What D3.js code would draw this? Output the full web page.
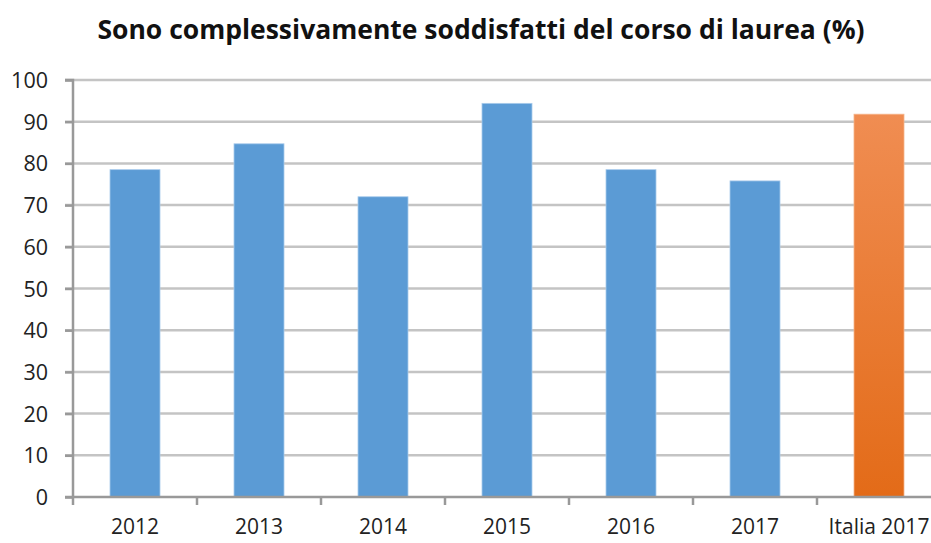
<!DOCTYPE html>
<html><head><meta charset="utf-8">
<script src="https://cdn.jsdelivr.net/npm/d3@7"></script>
<style>body{margin:0;background:#fff;} svg{display:block;}</style>
</head><body>
<svg id="c" width="931" height="543"></svg>
<script>
const title = "Sono complessivamente soddisfatti del corso di laurea (%)";
const categories = ["2012","2013","2014","2015","2016","2017","Italia 2017"];
const values = [78.5, 84.7, 72, 94.4, 78.5, 75.8, 91.8];
const yTicks = [0,10,20,30,40,50,60,70,80,90,100];

const svg = d3.select("#c");
const m = {left:73, top:80, bottom:497, right:941};
const xb = d3.scaleBand().domain(categories).range([m.left, m.right]);
const y = d3.scaleLinear().domain([0,100]).range([m.bottom, m.top]);

const defs = svg.append("defs");
const g = defs.append("linearGradient").attr("id","og").attr("x1",0).attr("y1",0).attr("x2",0).attr("y2",1);
g.append("stop").attr("offset","0%").attr("stop-color","#f08d52");
g.append("stop").attr("offset","100%").attr("stop-color","#e36b18");

svg.append("text").attr("x",481).attr("y",39).attr("text-anchor","middle")
  .attr("font-family","Open Sans").attr("font-weight","bold").attr("font-size",26.5)
  .attr("fill","#111").text(title);

// gridlines
svg.append("g").selectAll("line").data(yTicks.filter(d=>d>0)).join("line")
  .attr("x1",65).attr("x2",931).attr("y1",d=>y(d)).attr("y2",d=>y(d))
  .attr("stroke","#c4c4c4").attr("stroke-width",2.5);

// bars
svg.append("g").selectAll("rect").data(values).join("rect")
  .attr("x",(d,i)=>xb(categories[i]) + xb.bandwidth()/2 - 25)
  .attr("width",50)
  .attr("y",d=>y(d)).attr("height",d=>y(0)-y(d))
  .attr("fill",(d,i)=>i===6?"url(#og)":"#5b9bd5")
  .attr("stroke",(d,i)=>i===6?"#f6b48a":"#a9cbeb").attr("stroke-width",0.8);

// y axis
const ya = svg.append("g").attr("transform",`translate(${m.left},0)`)
  .call(d3.axisLeft(y).tickValues(yTicks).tickSize(8).tickPadding(17));
ya.select(".domain").attr("stroke","#999").attr("stroke-width",2.5).attr("d",`M-8,${y(100)}H0V${y(0)}`);
ya.selectAll(".tick line").attr("stroke","#999").attr("stroke-width",2.5);
ya.selectAll("text").attr("font-family","Open Sans").attr("font-size",21.5).attr("fill","#222").attr("dy","0.35em");

// x axis
const xa = svg.append("g").attr("transform",`translate(0,${m.bottom})`)
  .call(d3.axisBottom(xb).tickSize(0).tickPadding(30));
xa.select(".domain").attr("stroke","#999").attr("stroke-width",2.5).attr("d",`M65,0H931`);
xa.selectAll("text").attr("font-family","Open Sans").attr("font-size",21).attr("fill","#222").attr("dy","0.35em");
// boundary ticks
svg.append("g").selectAll("line").data(categories).join("line")
  .attr("x1",d=>xb(d)).attr("x2",d=>xb(d)).attr("y1",m.bottom).attr("y2",m.bottom+8)
  .attr("stroke","#999").attr("stroke-width",2.5);
</script>
</body></html>
